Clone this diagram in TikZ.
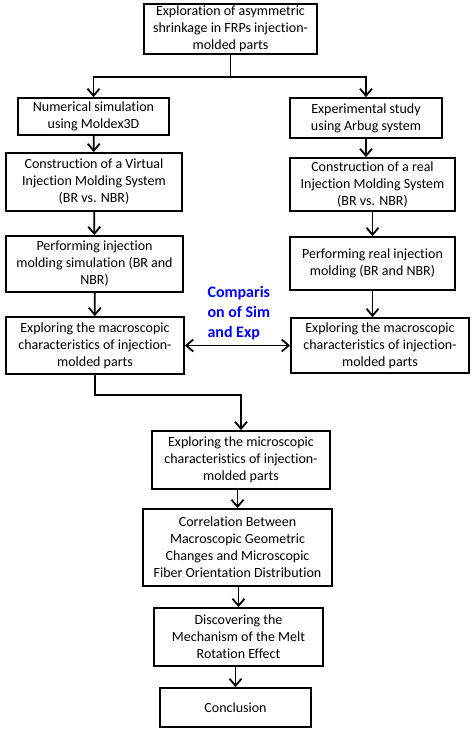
\documentclass[tikz,border=0pt]{standalone}
\usepackage{fontspec}
\setmainfont{Carlito}[Ligatures=NoCommon]
\usetikzlibrary{arrows.meta,positioning}
\begin{document}
\begin{tikzpicture}[x=1pt,y=-1pt,
  stage/.style={draw, line width=1.8pt, align=center, inner sep=1pt, font=\fontsize{14}{17}\selectfont},
  link/.style={line width=1.8pt, -{Straight Barb[length=7pt,width=12pt]}},
  plain/.style={line width=1.8pt}]
\useasboundingbox (0,0) rectangle (474,735);
\node[stage, minimum width=173pt, minimum height=50pt] (top) at (230.5,29) {Exploration of asymmetric\\shrinkage in FRPs injection-\\molded parts};
\node[stage, minimum width=151pt, minimum height=37pt] (sim1) at (93.5,116.5) {Numerical simulation\\using Moldex3D};
\node[stage, minimum width=152pt, minimum height=40pt] (exp1) at (366,118) {Experimental study\\using Arbug system};
\node[stage, minimum width=176pt, minimum height=58pt] (sim2) at (94,182) {Construction of a Virtual\\Injection Molding System\\(BR vs. NBR)};
\node[stage, minimum width=165pt, minimum height=53pt] (exp2) at (372.5,184.5) {Construction of a real\\Injection Molding System\\(BR vs. NBR)};
\node[stage, minimum width=177pt, minimum height=56pt] (sim3) at (94.5,264) {Performing injection\\molding simulation (BR and\\NBR)};
\node[stage, minimum width=165pt, minimum height=53pt] (exp3) at (372.5,263.5) {Performing real injection\\molding (BR and NBR)};
\node[stage, minimum width=178pt, minimum height=57pt] (sim4) at (95,345.5) {Exploring the macroscopic\\characteristics of injection-\\molded parts};
\node[stage, minimum width=178pt, minimum height=55pt] (exp4) at (380,345.5) {Exploring the macroscopic\\characteristics of injection-\\molded parts};
\node[align=left, text=blue, font=\bfseries\fontsize{16}{20}\selectfont, anchor=west] (cmp) at (204,313) {Comparis\\on of Sim\\and Exp};
\node[stage, minimum width=178pt, minimum height=58pt] (micro) at (241,460) {Exploring the microscopic\\characteristics of injection-\\molded parts};
\node[stage, minimum width=189pt, minimum height=77pt] (corr) at (237.5,547.5) {Correlation Between\\Macroscopic Geometric\\Changes and Microscopic\\Fiber Orientation Distribution};
\node[stage, minimum width=169pt, minimum height=58pt] (mech) at (238.5,637) {Discovering the\\Mechanism of the Melt\\Rotation Effect};
\node[stage, minimum width=151pt, minimum height=39pt] (concl) at (235.5,707.5) {Conclusion};
\coordinate (fork) at (230.5,77);
\draw[plain] (top.south) -- (fork);
\draw[link] (fork) -| (sim1.north);
\draw[link] (fork) -| (exp1.north);
\draw[link] (sim1) -- (sim2);
\draw[link] (sim2) -- (sim3);
\draw[link] (sim3) -- (sim4);
\draw[link] (exp1.south) -- (exp2.north -| exp1.south);
\draw[link] (exp2) -- (exp3);
\draw[link] (exp3.south) -- (exp4.north -| exp3.south);
\draw[link, {Straight Barb[length=7pt,width=12pt]}-{Straight Barb[length=7pt,width=12pt]}] (sim4) -- (exp4);
\draw[link] (sim4.south) -- ++(0,20) -| (micro.north);
\draw[link] (micro.south -| corr.north) -- (corr.north);
\draw[link] (corr.south -| mech.north) -- (mech.north);
\draw[link] (mech.south -| concl.north) -- (concl.north);
\end{tikzpicture}
\end{document}
